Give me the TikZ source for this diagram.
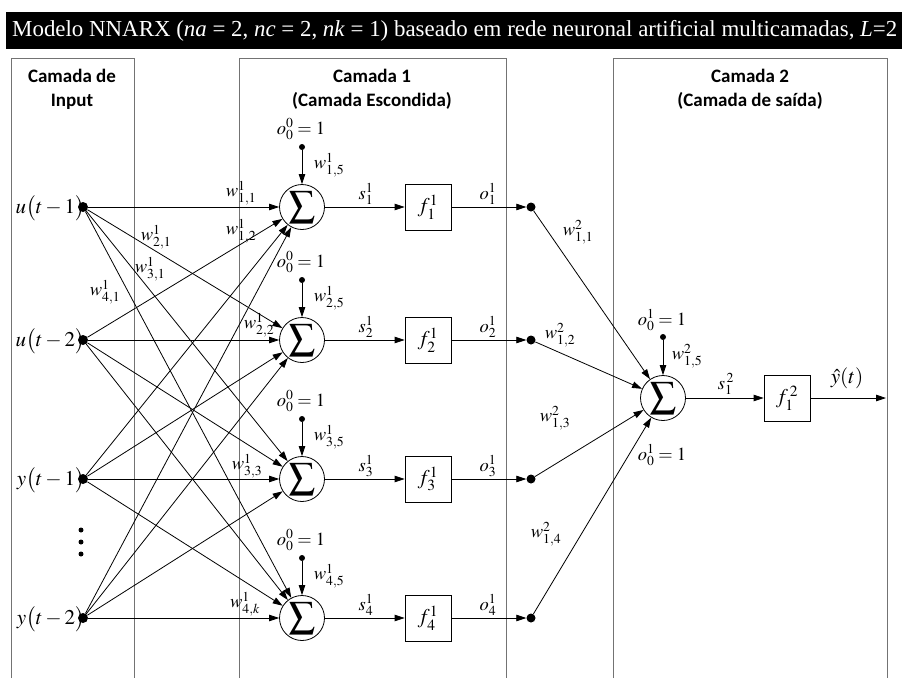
\documentclass[tikz,border=0pt]{standalone}
\usepackage{mathptmx}
\usepackage{fontspec}
\setmainfont{Liberation Serif}
\newfontfamily\hdfont{Carlito}
\usetikzlibrary{arrows.meta}
\newcommand{\sumglyph}{\scalebox{1.3}{$\displaystyle\sum$}}
\begin{document}
\begin{tikzpicture}[x=1pt,y=-1pt,
  arr/.style={-{Triangle[length=10pt,width=6.5pt]}, line width=0.8pt},
  sig/.style={circle, draw, line width=0.8pt, minimum size=45pt, inner sep=0pt, font=\fontsize{20}{22}\selectfont},
  fbx/.style={draw, line width=0.8pt, minimum size=46pt, inner sep=0pt, font=\fontsize{21}{23}\selectfont},
  indot/.style={circle, fill, inner sep=0pt, minimum size=10pt},
  outdot/.style={circle, fill, inner sep=0pt, minimum size=9pt},
  bdot/.style={circle, fill, inner sep=0pt, minimum size=6pt},
  lay/.style={draw=black!55, line width=0.8pt},
  hd/.style={font=\hdfont\bfseries\fontsize{19}{24}\selectfont, align=center, inner sep=0pt},
  lbl/.style={font=\fontsize{18.5}{20}\selectfont, inner sep=0pt},
  inl/.style={font=\fontsize{21}{24}\selectfont, inner sep=0pt, anchor=east}]
\useasboundingbox (0,0) rectangle (905,678);
\fill[white] (0,0) rectangle (905,678);
% title bar
\fill[black] (6,12) rectangle (902,49);
\node[anchor=west, text=white, inner sep=0pt, font=\fontsize{22.9}{24}\selectfont] (title) at (12,31) {Modelo NNARX (\textit{na} = 2, \textit{nc} = 2, \textit{nk} = 1) baseado em rede neuronal artificial multicamadas, \textit{L}=2};
% layer frames
\draw[lay] (11,678) -- (11,58) -- (134,58) -- (134,678);
\draw[lay] (239,678) -- (239,58) -- (506,58) -- (506,678);
\draw[lay] (613,678) -- (613,58) -- (887,58) -- (887,678);
\node[hd] (h0) at (72,89) {Camada de\\Input};
\node[hd] (h1) at (372,89) {Camada 1\\(Camada Escondida)};
\node[hd] (h2) at (750,89) {Camada 2\\(Camada de saída)};
% inputs
\node[indot] (in1) at (83,207) {};
\node[indot] (in2) at (83,340) {};
\node[indot] (in3) at (83,479) {};
\node[indot] (in4) at (83,618) {};
\node[inl] (tin1) at (85,208) {$u\bigl(t-1\bigr)$};
\node[inl] (tin2) at (85,341) {$u\bigl(t-2\bigr)$};
\node[inl] (tin3) at (85,480) {$y\bigl(t-1\bigr)$};
\node[inl] (tin4) at (85,619) {$y\bigl(t-2\bigr)$};
\node[bdot, minimum size=5pt] (v1) at (81,530) {};
\node[bdot, minimum size=5pt] (v2) at (81,542) {};
\node[bdot, minimum size=5pt] (v3) at (81,554) {};
% hidden layer
\foreach \j/\yy in {1/207,2/340,3/479,4/618}{
  \node[sig] (s\j) at (302,\yy) {\sumglyph};
  \node[fbx] (f\j) at (428,\yy) {$f_{\j}^{1}$};
  \node[outdot] (o\j) at (531,\yy) {};
  \node[bdot] (b\j) at (302,\yy-60) {};
  \node[lbl] (bl\j) at (301,\yy-78) {$o_{0}^{0}=1$};
  \node[lbl] (wb\j) at (329,\yy-42) {$w_{\j,5}^{1}$};
  \node[lbl] (sl\j) at (366,\yy-13) {$s_{\j}^{1}$};
  \node[lbl] (ol\j) at (488,\yy-13) {$o_{\j}^{1}$};
  \draw[arr] (b\j) -- (s\j);
  \draw[arr] (s\j) -- (f\j);
  \draw[arr] (f\j) -- (o\j);
}
\foreach \i in {1,...,4}{
  \foreach \j in {1,...,4}{
    \draw[arr] (in\i) -- (s\j);
  }
}
% input weight labels
\node[lbl] (w11) at (241,193) {$w_{1,1}^{1}$};
\node[lbl] (w12) at (241,231) {$w_{1,2}^{1}$};
\node[lbl] (w21) at (156,237) {$w_{2,1}^{1}$};
\node[lbl] (w31) at (150,269) {$w_{3,1}^{1}$};
\node[lbl] (w41) at (105,292) {$w_{4,1}^{1}$};
\node[lbl] (w22) at (259,325) {$w_{2,2}^{1}$};
\node[lbl] (w33) at (247,466) {$w_{3,3}^{1}$};
\node[lbl] (w4k) at (245,604) {$w_{4,k}^{1}$};
% output layer
\node[sig] (S) at (663,398) {\sumglyph};
\node[fbx] (F) at (787,398) {$f_{1}^{\,2}$};
\coordinate (yend) at (886,398);
\node[bdot] (B) at (663,337) {};
\node[lbl] (Bl) at (662,320) {$o_{0}^{1}=1$};
\node[lbl] (Bl2) at (662,455) {$o_{0}^{1}=1$};
\node[lbl] (WB) at (687,356) {$w_{1,5}^{2}$};
\node[lbl] (Sl) at (726,384) {$s_{1}^{\,2}$};
\node[lbl, font=\fontsize{21}{23}\selectfont] (yl) at (847,378) {$\hat{y}(t)$};
\draw[arr] (B) -- (S);
\draw[arr] (S) -- (F);
\draw[arr] (F) -- (yend);
\foreach \j in {1,...,4}{ \draw[arr] (o\j) -- (S); }
\node[lbl] (v11) at (578,232) {$w_{1,1}^{2}$};
\node[lbl] (v12) at (560,335) {$w_{1,2}^{2}$};
\node[lbl] (v13) at (555,418) {$w_{1,3}^{2}$};
\node[lbl] (v14) at (546,534) {$w_{1,4}^{2}$};
\end{tikzpicture}
\end{document}
